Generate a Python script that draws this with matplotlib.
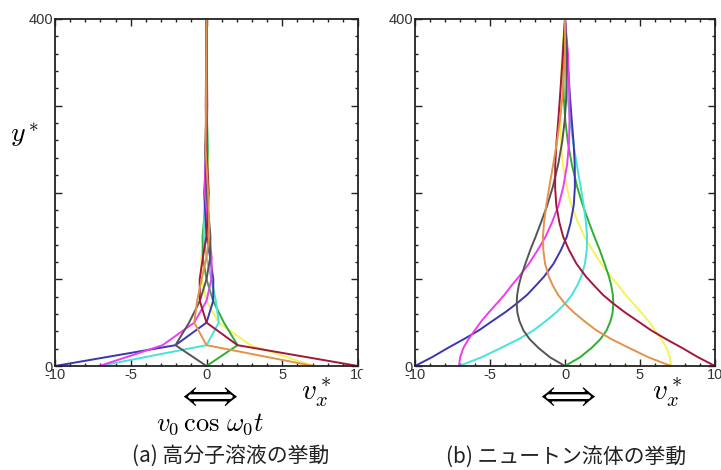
import matplotlib
matplotlib.use("Agg")
import matplotlib.pyplot as plt
from matplotlib.ticker import MultipleLocator, FixedLocator
from matplotlib.patches import Rectangle

plt.rcParams['mathtext.fontset'] = 'cm'

# (a) polymer solution: velocity profiles at 8 phases
y_poly = [0, 24, 50, 75, 100, 125, 150, 200, 250, 300, 400]
poly_maroon = [10, 2.05, 0, -0.44, -0.45, -0.24, 0, 0.15, 0, -0.05, 0]
poly_yellow = [7.07, 2.9, 0.81, 0, -0.32, -0.34, -0.18, 0.11, 0.06, -0.035, 0]
poly_green = [0, 2.05, 1.15, 0.44, 0, -0.24, -0.26, 0, 0.09, 0, 0]
poly_cyan = [-7.07, 0, 0.81, 0.62, 0.32, 0, -0.18, -0.11, 0.06, 0.035, 0]
poly_blue = [-10, -2.05, 0, 0.44, 0.45, 0.24, 0, -0.15, 0, 0.05, 0]
poly_magenta = [-7.07, -2.9, -0.81, 0, 0.32, 0.34, 0.18, -0.11, -0.06, 0.035, 0]
poly_gray = [0, -2.05, -1.15, -0.44, 0, 0.24, 0.26, 0, -0.09, 0, 0]
poly_orange = [7.07, 0, -0.81, -0.62, -0.32, 0, 0.18, 0.11, -0.06, -0.035, 0]

# (b) newtonian fluid
y_newt = [0, 10, 21, 31, 41, 52, 62, 72, 82, 93, 103, 118, 134, 149, 165,
          185, 206, 232, 258, 283, 309, 360, 400]
newt_maroon = [10, 8.88, 7.79, 6.74, 5.75, 4.83, 3.98, 3.22, 2.53, 1.93, 1.40, 0.76,
               0.26, -0.12, -0.37, -0.58, -0.66, -0.65, -0.57, -0.45, -0.34, -0.14, 0]
newt_blue = [-10, -8.88, -7.79, -6.74, -5.75, -4.83, -3.98, -3.22, -2.53, -1.93, -1.40, -0.76,
             -0.26, 0.12, 0.37, 0.58, 0.66, 0.65, 0.57, 0.45, 0.34, 0.14, 0]
newt_green = [0, 1.00, 1.78, 2.36, 2.77, 3.04, 3.18, 3.22, 3.19, 3.08, 2.93, 2.64,
              2.31, 1.96, 1.61, 1.19, 0.82, 0.46, 0.19, 0.02, -0.08, -0.14, 0]
newt_gray = [0, -1.00, -1.78, -2.36, -2.77, -3.04, -3.18, -3.22, -3.19, -3.08, -2.93, -2.64,
             -2.31, -1.96, -1.61, -1.19, -0.82, -0.46, -0.19, -0.02, 0.08, 0.14, 0]
newt_yellow = [7.07, 6.99, 6.77, 6.43, 6.02, 5.56, 5.07, 4.55, 4.04, 3.55, 3.07, 2.40,
               1.81, 1.30, 0.88, 0.43, 0.12, -0.14, -0.27, -0.30, -0.29, -0.20, 0]
newt_magenta = [-7.07, -6.99, -6.77, -6.43, -6.02, -5.56, -5.07, -4.55, -4.04, -3.55, -3.07, -2.40,
                -1.81, -1.30, -0.88, -0.43, -0.12, 0.14, 0.27, 0.30, 0.29, 0.20, 0]
newt_orange = [7.07, 5.57, 4.25, 3.09, 2.10, 1.27, 0.57, -0.01, -0.46, -0.82, -1.08, -1.33,
               -1.45, -1.47, -1.40, -1.25, -1.05, -0.79, -0.54, -0.34, -0.18, 0.0, 0]
newt_cyan = [-7.07, -5.57, -4.25, -3.09, -2.10, -1.27, -0.57, 0.01, 0.46, 0.82, 1.08, 1.33,
             1.45, 1.47, 1.40, 1.25, 1.05, 0.79, 0.54, 0.34, 0.18, 0.0, 0]

x_ticks = [-10, -5, 0, 5, 10]
x_ticklabels = ['-10', '-5', '0', '5', '10']
y_ticks = [0, 100, 200, 300, 400]
y_ticklabels = ['0', '', '', '', '400']

colors = {
    'yellow': '#f4f45a', 'green': '#2fae35', 'cyan': '#45e3dc', 'blue': '#3a37b0',
    'magenta': '#f03cf0', 'gray': '#555555', 'maroon': '#a3173a', 'orange': '#e3924a',
}

fig = plt.figure(figsize=(7.21, 4.70), dpi=100)
ax1 = fig.add_axes([55 / 721, 104 / 470, 303 / 721, 347 / 470])
ax2 = fig.add_axes([415 / 721, 104 / 470, 300 / 721, 347 / 470])

poly = [(poly_yellow, 'yellow'), (poly_green, 'green'), (poly_cyan, 'cyan'),
        (poly_blue, 'blue'), (poly_magenta, 'magenta'), (poly_gray, 'gray'),
        (poly_maroon, 'maroon'), (poly_orange, 'orange')]
newt = [(newt_yellow, 'yellow'), (newt_green, 'green'), (newt_cyan, 'cyan'),
        (newt_blue, 'blue'), (newt_magenta, 'magenta'), (newt_gray, 'gray'),
        (newt_maroon, 'maroon'), (newt_orange, 'orange')]

for vals, c in poly:
    ax1.plot(vals, y_poly, color=colors[c], lw=1.4)
for vals, c in newt:
    ax2.plot(vals, y_newt, color=colors[c], lw=1.4)

for ax in (ax1, ax2):
    ax.set_xlim(-10, 10)
    ax.set_ylim(0, 400)
    ax.xaxis.set_major_locator(FixedLocator(x_ticks))
    ax.set_xticklabels(x_ticklabels)
    ax.yaxis.set_major_locator(FixedLocator(y_ticks))
    ax.set_yticklabels(y_ticklabels)
    ax.xaxis.set_minor_locator(MultipleLocator(1))
    ax.yaxis.set_minor_locator(MultipleLocator(20))
    ax.tick_params(which='both', direction='in', top=True, right=True,
                   width=1.0, colors='#222222', labelcolor='#333333',
                   labelsize=10.5, pad=1.5)
    ax.tick_params(which='major', length=5)
    ax.tick_params(which='minor', length=2.5)
    for lbl in ax.get_xticklabels() + ax.get_yticklabels():
        lbl.set_fontfamily('Liberation Sans')
    for s in ax.spines.values():
        s.set_linewidth(1.3)
        s.set_color('#222222')

# the left "10" is cut by the neighbouring panel in the original
fig.patches.append(Rectangle((361 / 721, 1 - 392 / 470), 34 / 721, 22 / 470,
                             transform=fig.transFigure, facecolor='white',
                             edgecolor='none', zorder=10))

fig.text(25 / 721, 1 - 135 / 470, r'$y^*$', fontsize=20, ha='center', va='center')
fig.text(316 / 721, 1 - 393 / 470, r'$v_x^*$', fontsize=21, ha='center', va='center')
fig.text(667 / 721, 1 - 393 / 470, r'$v_x^*$', fontsize=21, ha='center', va='center')
fig.text(207 / 721, 1 - 396 / 470, r'$\Longleftrightarrow$', fontsize=26, ha='center', va='center')
fig.text(565 / 721, 1 - 396 / 470, r'$\Longleftrightarrow$', fontsize=26, ha='center', va='center')
fig.text(210 / 721, 1 - 424 / 470, r'$v_0\,\cos\,\omega_0 t$', fontsize=19, ha='center', va='center')

jp = ['Noto Sans CJK JP', 'DejaVu Sans']
fig.text(231 / 721, 1 - 456 / 470, '(a) 高分子溶液の挙動', fontsize=15, ha='center',
         va='center', family=jp, color='#222222')
fig.text(566 / 721, 1 - 457 / 470, '(b) ニュートン流体の挙動', fontsize=15, ha='center',
         va='center', family=jp, color='#222222')

fig.savefig('out.png', dpi=100)
